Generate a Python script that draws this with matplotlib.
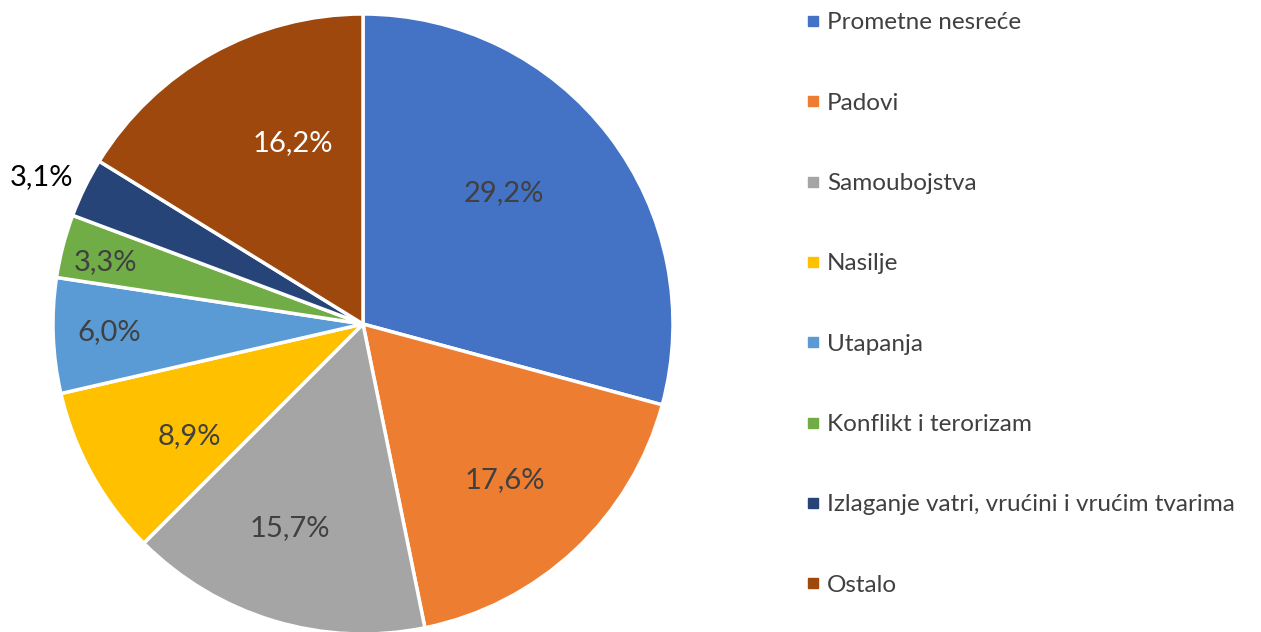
import numpy as np
import matplotlib
matplotlib.use("Agg")
import matplotlib.pyplot as plt
from matplotlib.lines import Line2D

plt.rcParams['font.family'] = ['Lato', 'DejaVu Sans']

categories = ["Prometne nesreće", "Padovi", "Samoubojstva", "Nasilje", "Utapanja",
              "Konflikt i terorizam", "Izlaganje vatri, vrućini i vrućim tvarima", "Ostalo"]
values = [29.2, 17.6, 15.7, 8.9, 6.0, 3.3, 3.1, 16.2]
labels = ["29,2%", "17,6%", "15,7%", "8,9%", "6,0%", "3,3%", "3,1%", "16,2%"]
colors = ["#4472C4", "#ED7D31", "#A5A5A5", "#FFC000", "#5B9BD5", "#70AD47", "#264478", "#9E480E"]

W, H = 1261, 632
fig = plt.figure(figsize=(W / 100, H / 100), dpi=100)
cx, cy, r = 363, 324, 310
ax = fig.add_axes([(cx - r) / W, (H - cy - r) / H, 2 * r / W, 2 * r / H])

wedges, _ = ax.pie(values, colors=colors, startangle=90, counterclock=False,
                   radius=1, wedgeprops=dict(edgecolor="white", linewidth=2.5))
ax.set_xlim(-1, 1)
ax.set_ylim(-1, 1)
ax.set_aspect("equal")
ax.axis("off")

# label placement: distance from center, angle tweak (deg), text colour
dist = [0.62, 0.68, 0.70, 0.665, 0.82, 0.855, 1.14, 0.626]
dang = [5.5, -0.9, -3, 3.9, -0.4, 1, 1.6, -8.1]
tcol = ["#404040"] * 6 + ["black", "white"]
for w, lab, d, da, c in zip(wedges, labels, dist, dang, tcol):
    ang = np.deg2rad((w.theta1 + w.theta2) / 2 + da)
    ax.text(d * np.cos(ang), d * np.sin(ang), lab, ha="center", va="center",
            fontsize=21, color=c)

handles = [Line2D([], [], marker="s", linestyle="none", markersize=7,
                  markerfacecolor=c, markeredgecolor=c) for c in colors]
fig.legend(handles, categories, loc="upper left", bbox_to_anchor=(787 / W, 1 + 7 / H),
           frameon=False, fontsize=17.5, labelcolor="#404040", handlelength=0.5,
           handletextpad=0.35, labelspacing=2.44, borderpad=0.3)

fig.savefig("out.png", dpi=100)
